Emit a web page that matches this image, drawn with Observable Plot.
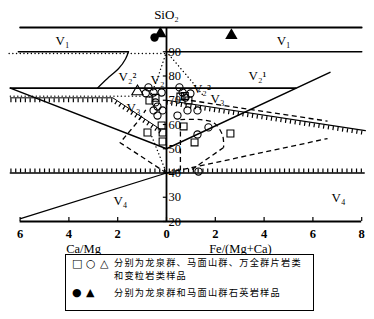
<!DOCTYPE html>
<html><head><meta charset="utf-8">
<script src="https://cdn.jsdelivr.net/npm/d3@7"></script>
<script src="https://cdn.jsdelivr.net/npm/@observablehq/plot@0.6"></script>
<style>
body{margin:0;background:#fff;font-family:"Liberation Serif",serif;}
#wrap{position:relative;width:374px;height:319px;overflow:hidden;}
#chart svg text{font-family:"Liberation Serif",serif;}
#legend{position:absolute;left:65px;top:254px;width:249px;height:57px;border:1px solid #000;box-sizing:border-box;font-family:"Noto Sans CJK SC",sans-serif;color:#000;}
#legend span{position:absolute;white-space:nowrap;line-height:1;}
.sym{font-family:"DejaVu Sans",sans-serif;font-size:11px;}
.cn{font-size:9.2px;letter-spacing:1.25px;}
</style></head><body><div id="wrap"><div id="chart"></div>
<div id="legend">
<span class="sym" style="left:6px;top:3px">□</span>
<span class="sym" style="left:20px;top:3px">○</span>
<span class="sym" style="left:34px;top:3px">△</span>
<span class="cn" style="left:48px;top:3px">分别为龙泉群、马面山群、万全群片岩类</span>
<span class="cn" style="left:48px;top:16px">和变粒岩类样品</span>
<span class="sym" style="left:6px;top:32px">●</span>
<span class="sym" style="left:20px;top:32px">▲</span>
<span class="cn" style="left:48px;top:33px">分别为龙泉群和马面山群石英岩样品</span>
</div></div>
<script>
// ---- data (x: negative = Ca/Mg side, positive = Fe/(Mg+Ca) side; y: SiO2) ----
const xTicks = [-6, -4, -2, 0, 2, 4, 6, 8];
const yTicks = [20, 30, 40, 50, 60, 70, 80, 90];
const squares = [[-0.70,69.9],[-0.20,59.6],[-0.78,56.7],[-0.16,56.7],[-0.16,53.0],[0.57,71.5],[0.90,69.9],[0.70,59.2],[1.15,52.6],[2.62,56.3],[-0.45,71.0],[0.75,71.8]];
const circles = [[-0.74,75.3],[-0.53,73.2],[-0.20,73.2],[-0.45,69.1],[-0.37,67.4],[-0.53,65.8],[-0.16,65.8],[-0.37,63.7],[0.53,75.3],[0.66,73.2],[0.98,72.8],[0.86,65.8],[1.27,65.8],[0.45,63.7],[1.27,55.9],[1.72,58.8],[1.31,40.6],[0.78,71.1],[-0.85,72.9]];
const triangles = [[-1.19,73.6]];
const quartziteCircles = [[-0.49,95.9]];
const quartziteTriangles = [[-0.25,97.5],[2.66,96.7]];
// boundary lines
const line100 = [[-6,100],[8,100]];
const line90a = [[-6.07,90],[-1.56,90]];
const line90b = [[0,90],[8,90]];
const dot90 = [[-6.45,89.3],[0,89.3]];
const line75 = [[-6.4,75],[5.3,75]];
const leftV = [[-6.4,75],[0,50]];
const rightV = [[0,50],[6.7,81.5]];
const curveV2 = [[-1.56,90],[-1.68,87],[-1.97,83],[-2.42,79],[-2.83,75]];
const hatchL = [[-6.4,71],[-2.2,71],[-0.25,58]];
const dot72 = [[-6.4,71.7],[-1.0,71.7]];
const hatch40 = [[-6.4,40],[8.1,40]];
const v4line = [[-5.98,21.2],[0,40]];
const hatchR = [[0,70],[8.15,57.5]];
const dashR = [[1.0,69.9],[6.6,61.4]];
const dashOrigin = [[0,40],[6.6,54.2]];
const dashL = [[0,40],[-1.9,52.5],[-1.15,61.5],[-0.85,66]];
const dashVert = [[0.57,41],[0.57,62]];
const dashArc = [[0.57,62],[1.4,62],[1.95,60.6],[2.3,55.5],[2.34,50.5]];
const dashBack = [[2.34,50.5],[1.05,41.5]];
const dotL = [[0,90],[-0.4,78],[-0.7,71]];
const dotR = [[0,90],[1.1,77],[1.5,72]];
const dotO = [[-0.6,55],[0,40]];
// region labels
const regionLabels = [
  {x:-4.26,y:94.3,t:"V₁"},{x:4.8,y:94.3,t:"V₁"},
  {x:-1.6,y:79.8,t:"V₂²"},{x:3.73,y:80.2,t:"V₂¹"},
  {x:-0.37,y:78.6,t:"V₂"},{x:1.45,y:74.8,t:"V₂²"},
  {x:-1.35,y:67,t:"V₃"},{x:2.09,y:70.7,t:"V₃"},
  {x:-1.89,y:28.7,t:"V₄"},{x:7.05,y:29.9,t:"V₄"}
];
const axisTitles = [{x:-3.4,t:"Ca/Mg"},{x:3.03,t:"Fe/(Mg+Ca)"}];

const FF = "Liberation Serif, serif";
const L = (d, o={}) => Plot.line(d, {x: d=>d[0], y: d=>d[1], stroke:"#000", strokeWidth:1.5, ...o});
const hatch = (d, dy) => Plot.line(d, {x: d=>d[0], y: d=>d[1], stroke:"#000", strokeWidth:4, strokeDasharray:"1.2,3.6", strokeLinecap:"butt", dy});
const dash = {strokeWidth:1.3, strokeDasharray:"5,3.5", strokeLinecap:"butt"};
const dotted = {strokeWidth:1.4, strokeDasharray:"0.1,3.6", strokeLinecap:"round"};

const chart = Plot.plot({
  width: 374, height: 254,
  marginLeft: 19.6, marginRight: 12.8, marginTop: 27, marginBottom: 33,
  x: {domain: [-6, 8], axis: null},
  y: {domain: [20, 100], axis: null},
  style: {fontFamily: FF, background: "#fff"},
  marks: [
    L(line100, {strokeWidth:1.8}),
    L(line90a, {strokeWidth:1.6}), L(line90b, {strokeWidth:1.6}),
    L(dot90, dotted),
    L(line75, {strokeWidth:1.6}),
    L(leftV), L(rightV),
    L(curveV2, {curve:"natural", strokeWidth:1.3}),
    L(hatchL, {strokeWidth:1}), hatch(hatchL, 2.5),
    L(dot72, dotted),
    L(hatch40, {strokeWidth:1.6}), hatch(hatch40, -2.5),
    L(v4line, {strokeWidth:1.3}),
    L(hatchR, {strokeWidth:1.2}), hatch(hatchR, 2.5),
    L(dashR, dash), L(dashOrigin, dash), L(dashL, dash),
    L(dashVert, dash), L(dashArc, {...dash, curve:"catmull-rom"}), L(dashBack, dash),
    L(dotL, dotted), L(dotR, dotted), L(dotO, dotted),
    // axes
    Plot.ruleY([20], {x1:-6, x2:8, stroke:"#000", strokeWidth:1.8}),
    Plot.ruleX([0], {y1:20, y2:100, stroke:"#000", strokeWidth:1.8}),
    Plot.ruleX(xTicks, {y1:20, y2:21.7, stroke:"#000", strokeWidth:1.2}),
    Plot.ruleY(yTicks, {x1:-0.13, x2:0, stroke:"#000", strokeWidth:1.2}),
    Plot.text(yTicks, {x:0, y:d=>d, text:d=>String(d), textAnchor:"start", dx:2, fontSize:12.5, fontFamily:FF, fill:"#000"}),
    Plot.text(xTicks, {x:d=>d, y:20, text:d=>String(Math.abs(d)), dy:12, fontSize:12.5, fontWeight:"bold", fontFamily:FF, fill:"#000"}),
    Plot.text(axisTitles, {x:"x", y:20, text:"t", dy:27, fontSize:12.5, fontFamily:FF, fill:"#000"}),
    Plot.text(["SiO₂"], {x:0, y:100, text:d=>d, dy:-13, fontSize:13, fontFamily:FF, fill:"#000"}),
    Plot.text(regionLabels, {x:"x", y:"y", text:"t", fontSize:13, fontFamily:FF, fill:"#000"}),
    // samples
    Plot.dot(squares, {x:d=>d[0], y:d=>d[1], symbol:"square", r:3.9, stroke:"#000", strokeWidth:1.1, fill:"none"}),
    Plot.dot(circles, {x:d=>d[0], y:d=>d[1], symbol:"circle", r:3.6, stroke:"#000", strokeWidth:1.1, fill:"none"}),
    Plot.dot(triangles, {x:d=>d[0], y:d=>d[1], symbol:"triangle", r:4.2, stroke:"#000", strokeWidth:1.1, fill:"none"}),
    Plot.dot(quartziteCircles, {x:d=>d[0], y:d=>d[1], symbol:"circle", r:4.2, fill:"#000"}),
    Plot.dot(quartziteTriangles, {x:d=>d[0], y:d=>d[1], symbol:"triangle", r:4.6, fill:"#000"})
  ]
});
document.getElementById("chart").appendChild(chart);
</script></body></html>
